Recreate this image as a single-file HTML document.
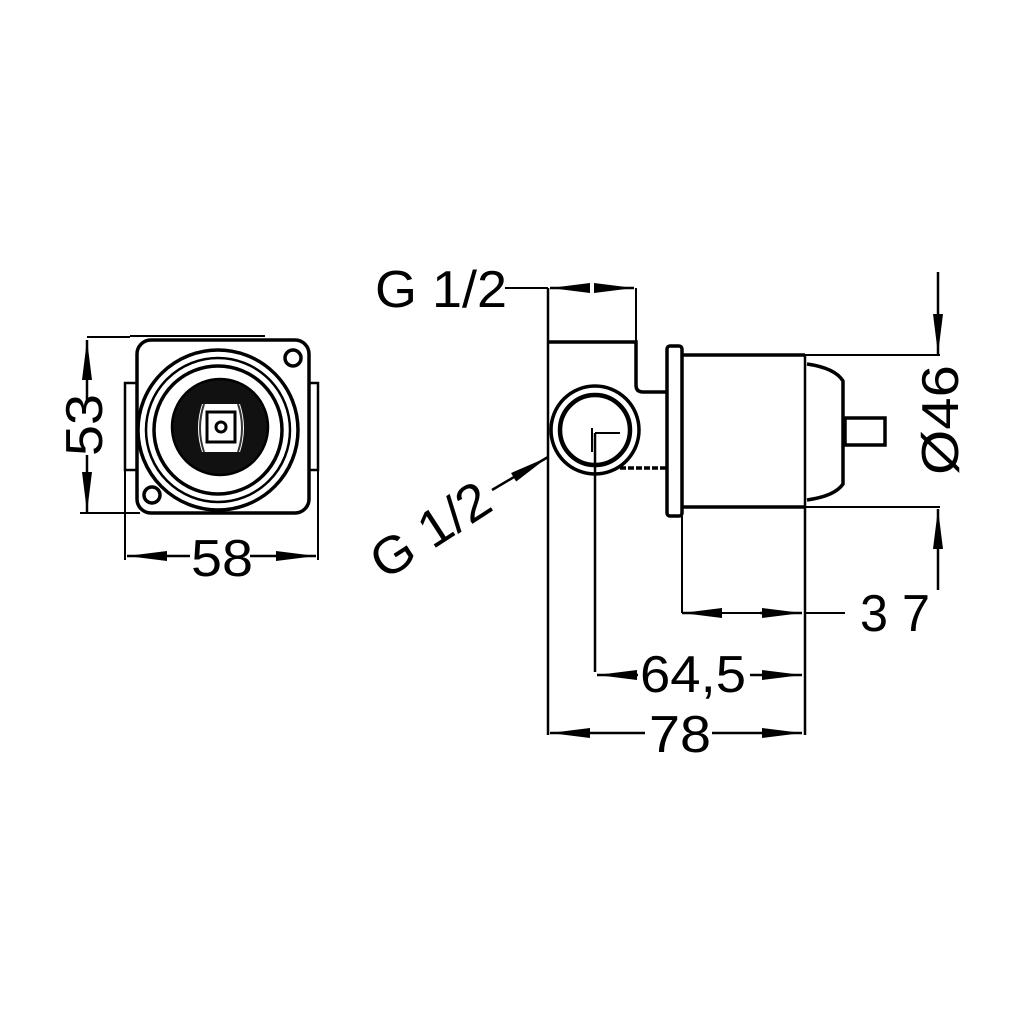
<!DOCTYPE html>
<html><head><meta charset="utf-8"><style>html,body{margin:0;padding:0;background:#fff}svg{display:block}</style></head>
<body>
<svg width="1024" height="1024" viewBox="0 0 1024 1024" xmlns="http://www.w3.org/2000/svg" font-family="Liberation Sans, Arial, sans-serif">
<defs>
<marker id="b" viewBox="0 0 40 10" refX="40" refY="5" markerWidth="40" markerHeight="10" markerUnits="userSpaceOnUse" orient="auto-start-reverse" preserveAspectRatio="none"><path d="M0,0 L40,5 L0,10 Z" fill="#000"/></marker>
</defs>
<g fill="none" stroke="#000" stroke-width="2.5">
<!-- LEFT VIEW -->
<rect x="125" y="383" width="193" height="87" stroke-width="2.5"/>
<rect x="137" y="340" width="172" height="173" rx="14" fill="#fff" stroke-width="3.5"/>
<circle cx="218" cy="430" r="80" fill="#fff" stroke-width="3.5"/>
<circle cx="218" cy="430" r="72" stroke-width="2.5"/>
<circle cx="218" cy="430" r="64" stroke-width="3.5"/>
<circle cx="220" cy="427" r="48" fill="#111" stroke="#000"/>
<path d="M202 404 Q194 428 202 452 H240 Q248 428 240 404 Z" fill="#fff" stroke="none"/>
<path d="M204 404 Q196 428 204 452 M238 404 Q246 428 238 452" stroke="#333" stroke-width="2"/>
<rect x="207" y="412" width="28" height="30" fill="none" stroke="#000" stroke-width="3"/>
<circle cx="221" cy="427" r="5" stroke-width="3"/>
<circle cx="293" cy="358" r="8" stroke-width="3.5"/>
<circle cx="152" cy="495" r="8" stroke-width="3.5"/>
<path d="M87 337 H130 M130 336 H265" stroke-width="2"/>
<path d="M80 513 H140" stroke-width="2"/>
<path d="M87 340 V400" marker-start="url(#b)"/>
<path d="M87 455 V512" marker-end="url(#b)"/>
<path d="M125 470 V560 M318 470 V560" stroke-width="2"/>
<path d="M127 556 H190" marker-start="url(#b)"/>
<path d="M250 556 H316" marker-end="url(#b)"/>
<!-- RIGHT VIEW -->
<path d="M548 288 V735"/>
<path d="M548 342 H636 V385 Q636 392 643 392 H667" stroke-width="3.5"/>
<path d="M636 288 V342" stroke-width="2"/>
<path d="M620 468 H667" stroke-width="3.5" stroke-dasharray="6 2"/>
<rect x="667" y="346" width="15" height="170" rx="3" stroke-width="3.5" fill="#fff"/>
<path d="M682 355 H805 M682 507 H805" stroke-width="3.5"/>
<path d="M805 355 V735" stroke-width="2.5"/>
<path d="M805 355 H940 M805 507 H940" stroke-width="2"/>
<path d="M807 364 Q835 368 843 381 V484 Q835 496 807 500" stroke-width="3.5"/>
<rect x="845" y="418" width="40" height="27" stroke-width="3.5"/>
<circle cx="595" cy="430" r="44" fill="#fff" stroke-width="3.5"/>
<circle cx="595" cy="430" r="35" stroke-width="4.5"/>
<path d="M595 433 V672" stroke-width="2.5"/>
<path d="M595 433 H620 M592 428 V452" stroke-width="2"/>
<path d="M682 516 V613" stroke-width="2"/>
<path d="M505 288 H548" stroke-width="2"/>
<path d="M550 288 H590" marker-start="url(#b)"/>
<path d="M594 288 H634" marker-end="url(#b)"/>
<path d="M492 490 L548 457" marker-end="url(#b)"/>
<path d="M938 272 V354" marker-end="url(#b)"/>
<path d="M938 590 V509" marker-end="url(#b)"/>
<path d="M682 613 H722" marker-start="url(#b)"/>
<path d="M760 613 H802" marker-end="url(#b)"/>
<path d="M722 613 H760 M805 613 H845" stroke-width="2"/>
<path d="M597 675 H638" marker-start="url(#b)"/>
<path d="M750 675 H802" marker-end="url(#b)"/>
<path d="M550 733 H645" marker-start="url(#b)"/>
<path d="M712 733 H802" marker-end="url(#b)"/>
</g>
<g fill="#000" font-size="52">
<text x="222" y="576" text-anchor="middle" textLength="62" lengthAdjust="spacingAndGlyphs">58</text>
<text transform="translate(102,425) rotate(-90)" text-anchor="middle" textLength="62" lengthAdjust="spacingAndGlyphs">53</text>
<text x="375" y="307" textLength="132" lengthAdjust="spacingAndGlyphs">G 1/2</text>
<text transform="translate(440,545) rotate(-33)" text-anchor="middle" textLength="132" lengthAdjust="spacingAndGlyphs">G 1/2</text>
<text transform="translate(958,420) rotate(-90)" text-anchor="middle" textLength="110" lengthAdjust="spacingAndGlyphs">Ø46</text>
<text x="895" y="631" text-anchor="middle" textLength="70" lengthAdjust="spacingAndGlyphs">3 7</text>
<text x="693" y="692" text-anchor="middle" textLength="106" lengthAdjust="spacingAndGlyphs">64,5</text>
<text x="680" y="752" text-anchor="middle" textLength="62" lengthAdjust="spacingAndGlyphs">78</text>
</g>
</svg>
</body></html>
